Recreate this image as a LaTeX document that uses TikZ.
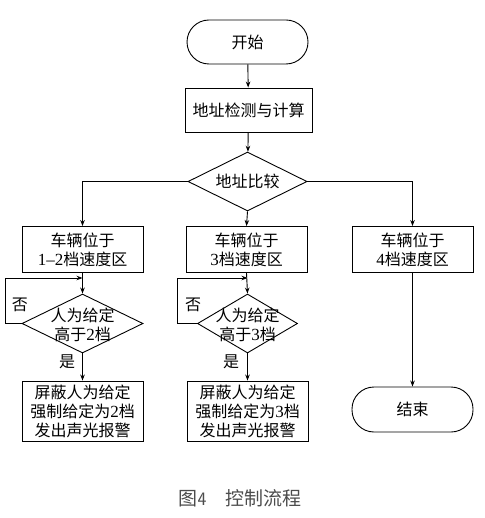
\documentclass[tikz,border=0pt]{standalone}
\usepackage{fontspec}
\setmainfont{Liberation Serif}
\newfontfamily\cjk{Noto Sans CJK SC}
\usetikzlibrary{shapes.geometric,arrows.meta}
\newcommand\digs[1]{{\rmfamily\fontsize{17}{19}\selectfont #1}}
\begin{document}
\begin{tikzpicture}[x=1pt,y=-1pt,
  every node/.style={font=\cjk\fontsize{16}{19}\selectfont, inner sep=0pt},
  box/.style={draw, rectangle, minimum width=121pt, minimum height=46pt, align=center},
  term/.style={draw, rectangle, rounded corners=22pt, minimum width=121pt, minimum height=44pt},
  dia/.style={draw, diamond, minimum width=121pt, minimum height=59pt},
  line/.style={line width=0.9pt},
  arr/.style={line width=0.9pt, -{Stealth[length=6pt,width=4.5pt]}},
  lbl/.style={font=\cjk\fontsize{16}{19}\selectfont}
]
\useasboundingbox (0,0) rectangle (484,518);
\tikzset{every path/.style={line width=0.9pt}}
\node[term] (start) at (247.5,42) {开始};
\node[box, minimum width=127pt, minimum height=44pt] (calc) at (248.5,110) {地址检测与计算};
\node[dia, minimum width=119pt] (cmp) at (247.5,181.5) {};
\node (cmpt) at (247.5,181.5) {地址比较};
\node[box] (b1) at (82.5,249.5) {车辆位于\\\digs{1–2}档速度区};
\node[box] (b2) at (246.5,249.5) {车辆位于\\\digs{3}档速度区};
\node[box] (b3) at (412.5,249.5) {车辆位于\\\digs{4}档速度区};
\node[dia] (d1) at (82.5,323.5) {};
\node[align=center] (d1t) at (82.5,325) {人为给定\\高于\digs{2}档};
\node[dia, minimum width=100pt] (d2) at (247.5,323.5) {};
\node[align=center] (d2t) at (247.5,325) {人为给定\\高于\digs{3}档};
\node[box, minimum height=60pt] (e1) at (82.5,411) {屏蔽人为给定\\强制给定为\digs{2}档\\发出声光报警};
\node[box, minimum height=60pt] (e2) at (247.5,411) {屏蔽人为给定\\强制给定为\digs{3}档\\发出声光报警};
\node[term, minimum height=45pt] (end) at (412.5,409.5) {结束};
\node[lbl] (no1) at (20,305) {否};
\node[lbl] (yes1) at (67,362) {是};
\node[lbl] (no2) at (193,305) {否};
\node[lbl] (yes2) at (231,362) {是};
\node[font=\cjk\fontsize{19}{22}\selectfont, text=black!70] (cap) at (240,498) {图{\sffamily 4}\quad 控制流程};
\coordinate (j1) at (82.5,278);
\coordinate (j2) at (247.5,278);
\draw[arr] (start) -- (calc);
\draw[arr] (calc) -- (cmp);
\draw[arr] (cmp.west) -| (b1.north);
\draw[arr] (cmp.south) -- (b2.north);
\draw[arr] (cmp.east) -| (b3.north);
\draw[arr] (b1.south) -- (d1.north);
\draw[arr] (b2.south) -- (d2.north);
\draw[arr] (d1.west) -- ++(-16,0) |- (j1);
\draw[arr] (d2.west) -- ++(-20,0) |- (j2);
\draw[arr] (d1.south) -- (e1.north);
\draw[arr] (d2.south) -- (e2.north);
\draw[arr] (b3.south) -- (end.north);
\end{tikzpicture}
\end{document}
